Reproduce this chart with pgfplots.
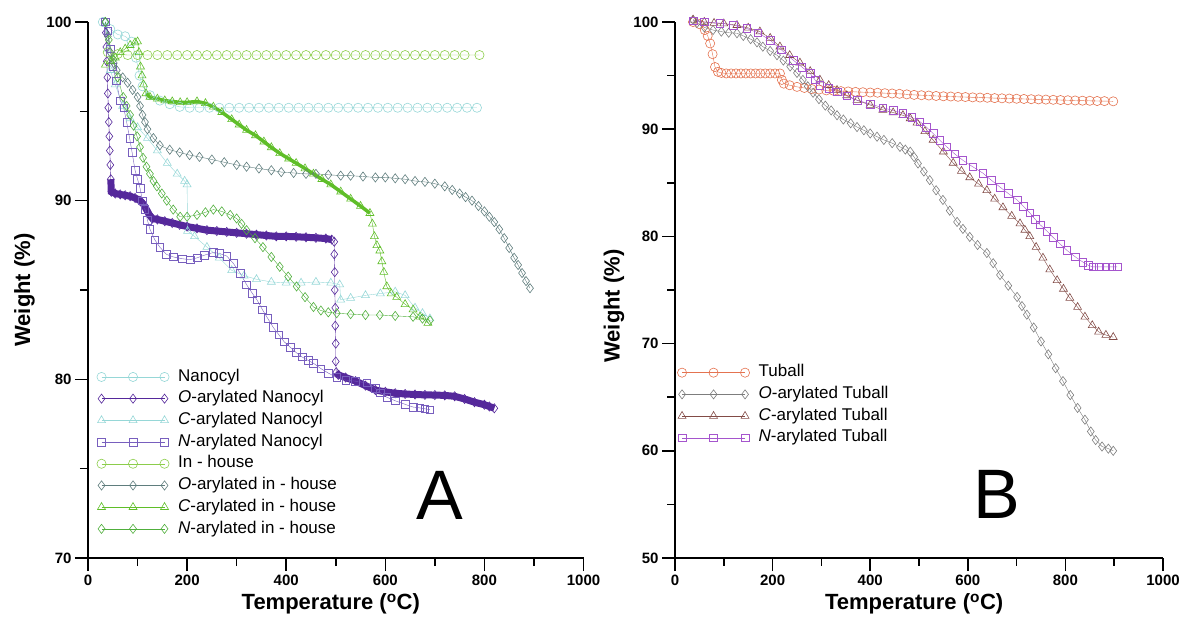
\documentclass[border=0pt]{standalone}
\usepackage{fontspec}
\setmainfont{Liberation Sans}
\usepackage{pgfplots}
\usepackage{pgfplotstable}
\pgfplotsset{compat=1.18}

\definecolor{cNano}{RGB}{150,215,215}
\definecolor{cONano}{RGB}{85,40,155}
\definecolor{cNNano}{RGB}{120,95,190}
\definecolor{cIn}{RGB}{140,205,75}
\definecolor{cOIn}{RGB}{95,125,125}
\definecolor{cCIn}{RGB}{95,190,40}
\definecolor{cNIn}{RGB}{80,175,60}
\definecolor{cTu}{RGB}{228,115,80}
\definecolor{cOTu}{RGB}{125,125,125}
\definecolor{cCTu}{RGB}{130,75,70}
\definecolor{cNTu}{RGB}{165,85,205}

% ---------- Panel A data ----------
\pgfplotstableread{
x y
30 100
45 99.6
60 99.3
75 99.2
88 98.9
97 98.0
104 97.0
110 96.4
125 95.9
145 95.6
165 95.4
185 95.25
205 95.2
225 95.2
245 95.2
265 95.2
285 95.2
305 95.2
325 95.2
345 95.2
365 95.2
385 95.2
405 95.2
425 95.2
445 95.2
465 95.2
485 95.2
505 95.2
525 95.2
545 95.2
565 95.2
585 95.2
605 95.2
625 95.2
645 95.2
665 95.2
685 95.2
705 95.2
725 95.2
745 95.2
765 95.2
785 95.2
}\tNano

\pgfplotstableread{
x y
35 100
36 99.4
37 98.6
38 97.8
39 96.9
40 96.0
41 95.2
42 94.4
43 93.6
44 92.8
45 92.0
46 91.2
47 90.5
55 90.4
65 90.35
75 90.3
85 90.25
95 90.15
105 90.0
112 89.8
118 89.5
124 89.2
130 89.0
140 88.95
155 88.85
170 88.75
185 88.65
200 88.55
220 88.45
240 88.35
260 88.3
280 88.25
300 88.2
320 88.15
340 88.1
360 88.05
380 88.0
400 88.0
420 87.98
440 87.95
460 87.92
480 87.88
492 87.82
497 87.7
497 87.0
498 86.0
498 85.0
499 84.0
499 83.0
500 82.0
500 81.0
501 80.4
505 80.25
520 80.1
540 79.9
560 79.65
580 79.4
600 79.3
620 79.22
640 79.18
660 79.15
680 79.13
700 79.12
720 79.1
740 79.05
760 78.9
780 78.72
800 78.58
810 78.48
820 78.38
}\tONano

\pgfplotstableread{
x y
35 100
40 98.5
45 97.3
55 96.5
70 95.3
85 94.6
100 94.1
120 93.5
140 92.8
160 92.1
180 91.5
195 91.1
200 90.9
201 88.3
215 88.0
240 87.4
265 86.8
290 86.1
315 85.8
340 85.6
370 85.45
400 85.4
430 85.4
460 85.45
490 85.4
508 85.3
510 84.45
530 84.55
560 84.7
590 84.8
620 84.9
640 84.7
660 84.0
675 83.7
690 83.4
}\tCNano

\pgfplotstableread{
x y
35 100
40 99.5
45 98.5
50 97.5
57 96.7
65 95.6
72 95.2
78 94.4
84 93.5
89 92.7
95 91.7
100 91.2
105 90.7
110 90.0
115 89.5
120 88.9
125 88.4
135 87.8
145 87.4
158 87.0
172 86.85
190 86.75
206 86.7
220 86.8
235 86.95
253 87.1
265 87.05
280 86.9
293 86.5
307 85.95
320 85.3
332 84.8
341 84.45
352 83.9
363 83.4
374 82.9
385 82.5
396 82.1
408 81.8
420 81.5
432 81.25
445 81.05
455 80.9
470 80.6
485 80.35
502 80.1
520 79.95
540 79.9
563 79.8
580 79.5
590 79.25
603 79.0
620 78.8
640 78.6
656 78.45
670 78.4
680 78.35
690 78.3
}\tNNano

\pgfplotstableread{
x y
40 98.3
60 98.2
80 98.15
100 98.15
120 98.15
140 98.15
160 98.15
180 98.15
200 98.15
220 98.15
240 98.15
260 98.15
280 98.15
300 98.15
320 98.15
340 98.15
360 98.15
380 98.15
400 98.15
420 98.15
440 98.15
460 98.15
480 98.15
500 98.15
520 98.15
540 98.15
560 98.15
580 98.15
600 98.15
620 98.15
640 98.15
660 98.15
680 98.15
700 98.15
720 98.15
740 98.15
760 98.15
790 98.15
}\tIn

\pgfplotstableread{
x y
35 100
40 99.2
45 98.3
52 97.7
58 97.3
70 96.9
80 96.6
90 96.2
100 95.8
105 95.3
110 94.8
115 94.4
120 94.0
132 93.5
145 93.1
165 92.85
185 92.7
205 92.55
225 92.45
250 92.3
275 92.15
300 92.0
320 91.9
345 91.8
370 91.7
390 91.6
415 91.55
440 91.5
460 91.5
485 91.45
510 91.4
530 91.4
555 91.35
580 91.3
600 91.3
620 91.25
640 91.2
660 91.1
680 91.05
700 90.95
720 90.8
735 90.6
750 90.4
762 90.2
775 90.0
788 89.7
800 89.4
810 89.1
820 88.8
830 88.4
840 87.9
850 87.35
860 86.8
868 86.4
876 85.95
884 85.5
892 85.1
}\tOIn

\pgfplotstableread{
x y
35 97.6
45 97.8
55 98.0
65 98.3
75 98.5
85 98.7
95 98.85
100 98.9
103 98.3
106 97.5
109 97.0
112 96.5
117 96.0
125 95.8
140 95.7
155 95.6
170 95.55
186 95.5
200 95.5
220 95.55
237 95.45
253 95.25
270 94.95
290 94.55
305 94.25
320 93.95
338 93.65
355 93.3
370 92.98
387 92.65
405 92.35
420 92.1
438 91.8
455 91.5
472 91.2
490 90.9
510 90.5
530 90.1
550 89.7
569 89.3
574 88.7
578 88.0
583 87.5
589 87.2
593 86.6
597 86.0
603 85.2
612 84.8
623 84.6
640 84.2
656 83.9
670 83.5
686 83.15
}\tCIn

\pgfplotstableread{
x y
35 100
42 99.0
51 97.9
60 96.9
71 95.8
78 95.3
85 94.8
92 94.2
99 93.6
105 93.0
111 92.4
118 91.9
125 91.5
132 91.1
139 90.8
149 90.4
159 90.0
172 89.5
186 89.1
200 89.1
220 89.2
237 89.35
253 89.5
270 89.4
287 89.2
300 89.0
310 88.7
320 88.35
337 87.9
353 87.4
370 86.85
387 86.3
404 85.75
421 85.2
438 84.6
455 84.05
470 83.85
485 83.75
502 83.7
530 83.65
560 83.6
589 83.6
620 83.55
656 83.5
675 83.4
690 83.3
}\tNIn

% ---------- Panel B data ----------
\pgfplotstableread{
x y
37 100
50 99.8
61 99.25
67 98.7
72 98.0
77 97.0
82 95.8
88 95.35
95 95.25
105 95.2
115 95.2
125 95.2
135 95.2
145 95.2
155 95.2
165 95.2
175 95.2
185 95.2
195 95.2
205 95.2
215 95.2
219 94.6
223 94.25
235 94.1
250 93.95
265 93.85
280 93.75
295 93.7
310 93.62
325 93.58
340 93.55
355 93.52
370 93.48
385 93.45
400 93.42
415 93.4
430 93.36
445 93.33
460 93.3
475 93.25
490 93.2
505 93.17
520 93.14
535 93.1
550 93.07
565 93.05
580 93.02
595 93.0
610 92.97
625 92.95
640 92.93
655 92.9
670 92.88
685 92.86
700 92.84
715 92.82
730 92.8
745 92.78
760 92.76
775 92.74
790 92.72
805 92.7
820 92.68
835 92.66
850 92.65
865 92.63
880 92.62
898 92.6
}\tTu

\pgfplotstableread{
x y
37 100.2
45 99.9
60 99.5
78 99.25
95 99.1
110 99.0
127 98.95
140 98.7
155 98.4
168 98.1
180 97.7
195 97.3
209 96.9
222 96.4
236 95.85
250 95.25
262 94.6
272 94.0
283 93.4
295 92.8
308 92.2
320 91.75
332 91.3
345 90.9
360 90.55
373 90.2
387 89.9
400 89.6
414 89.3
428 89.0
445 88.7
461 88.35
472 88.1
482 87.9
490 87.4
498 86.8
510 86.05
522 85.25
535 84.3
549 83.4
563 82.4
578 81.35
590 80.7
604 79.95
620 79.2
639 78.45
652 77.5
666 76.4
683 75.4
701 74.35
711 73.5
721 72.7
735 71.5
750 70.2
765 69.0
780 67.7
795 66.5
810 65.2
825 64.0
840 62.9
852 61.8
862 61.0
875 60.4
888 60.2
898 60.0
}\tOTu

\pgfplotstableread{
x y
37 100.2
60 100.0
80 99.9
100 99.85
127 99.7
150 99.45
174 99.1
195 98.5
215 97.7
235 96.9
256 96.2
277 95.4
297 94.6
315 94.1
332 93.65
352 93.15
373 92.7
400 92.25
426 91.8
447 91.55
467 91.3
482 91.0
496 90.6
512 89.8
529 89.0
550 87.9
570 86.85
587 86.1
604 85.5
622 84.9
639 84.3
655 83.5
672 82.7
690 81.9
707 81.2
717 80.6
727 80.0
740 79.0
754 78.0
768 76.9
783 75.9
796 75.1
809 74.25
825 73.4
840 72.5
855 71.7
868 71.1
883 70.8
898 70.6
}\tCTu

\pgfplotstableread{
x y
37 100.1
60 100.0
92 99.9
120 99.7
147 99.4
170 99.0
195 98.3
218 97.4
242 96.45
260 95.8
277 95.2
287 94.6
297 94.1
315 93.8
332 93.5
352 93.1
373 92.7
400 92.35
426 92.0
447 91.75
467 91.5
485 91.1
502 90.7
515 90.2
529 89.6
543 88.95
557 88.35
573 87.7
590 87.1
610 86.5
631 85.9
648 85.25
666 84.6
683 84.0
701 83.4
714 82.8
727 82.2
738 81.6
748 81.1
762 80.5
775 79.9
789 79.3
803 78.7
820 78.1
836 77.6
847 77.3
857 77.15
870 77.15
883 77.15
895 77.15
906 77.15
}\tNTu

\pgfplotsset{
  tgastyle/.style={
    scale only axis,
    xmin=0, xmax=1000,
    axis x line*=bottom, axis y line*=left,
    axis line style={line width=1.6pt, black},
    tick align=outside,
    major tick length=13pt, minor tick length=8pt,
    major tick style={line width=1.5pt, black},
    minor tick style={line width=1.5pt, black},
    minor x tick num=1, minor y tick num=1,
    xtick={0,200,400,600,800,1000},
    /pgf/number format/assume math mode=true,
    /pgf/number format/1000 sep={},
    xticklabel style={font=\bfseries\fontsize{15}{17}\selectfont},
    yticklabel style={font=\bfseries\fontsize{15}{17}\selectfont},
    xlabel={Temperature (\textsuperscript{o}C)},
    ylabel={Weight (\%)},
    every axis x label/.style={at={(axis description cs:0.49,0)}, anchor=center, yshift=-46pt, font=\bfseries\fontsize{22}{26}\selectfont},
    clip=false,
    legend cell align=left,
    legend image code/.code={
      \draw[mark repeat=1,mark phase=1,##1] plot coordinates {(0pt,0pt) (31.5pt,0pt) (63pt,0pt)};
    },
    legend style={draw=none, fill=none, inner sep=0pt, outer sep=0pt,
      font=\fontsize{17}{19}\selectfont, row sep=0pt,
      nodes={inner xsep=1pt, inner ysep=2pt, text height=13pt, text depth=4.7pt},
      /tikz/every odd column/.append style={column sep=8pt}},
  },
  ser/.style 2 args={color=#1, mark=#2, line width=0.4pt, mark size=4.6pt, mark options={solid, line width=0.6pt}},
}

\begin{document}
\begin{tikzpicture}
\useasboundingbox (0,0) rectangle (1186pt,623pt);

% ================= Panel A =================
\begin{axis}[tgastyle,
  at={(88pt,65pt)}, anchor=south west,
  width=495.5pt, height=536pt,
  ymin=70, ymax=100, ytick={70,80,90,100},
  every axis y label/.style={at={(axis description cs:-0.128,0.5)}, rotate=90, anchor=center, font=\bfseries\fontsize{22}{26}\selectfont},
  legend style={at={(rel axis cs:0.018,0.358)}, anchor=north west},
]
\addplot[forget plot, color=cONano, line width=7pt, restrict x to domain=46:496.5] table {\tONano};
\addplot[forget plot, color=cONano, line width=7pt, restrict x to domain=501:830] table {\tONano};
\addplot[forget plot, color=cCIn, line width=3.5pt, restrict x to domain=116:570] table {\tCIn};

\addplot[ser={cNano}{o}] table {\tNano};
\addlegendentry{Nanocyl}
\addplot[ser={cONano}{diamond}] table {\tONano};
\addlegendentry{\textit{O}-arylated Nanocyl}
\addplot[ser={cNano}{triangle}] table {\tCNano};
\addlegendentry{\textit{C}-arylated Nanocyl}
\addplot[ser={cNNano}{square}, mark size=3.8pt] table {\tNNano};
\addlegendentry{\textit{N}-arylated Nanocyl}
\addplot[ser={cIn}{o}] table {\tIn};
\addlegendentry{In - house}
\addplot[ser={cOIn}{diamond}] table {\tOIn};
\addlegendentry{\textit{O}-arylated in - house}
\addplot[ser={cCIn}{triangle}] table {\tCIn};
\addlegendentry{\textit{C}-arylated in - house}
\addplot[ser={cNIn}{diamond}] table {\tNIn};
\addlegendentry{\textit{N}-arylated in - house}

\node[font=\fontsize{70}{70}\selectfont] at (axis cs:710,73.5) {A};
\end{axis}

% ================= Panel B =================
\begin{axis}[tgastyle,
  at={(675pt,65pt)}, anchor=south west,
  width=488pt, height=536pt,
  ymin=50, ymax=100, ytick={50,60,70,80,90,100},
  every axis y label/.style={at={(axis description cs:-0.125,0.47)}, rotate=90, anchor=center, font=\bfseries\fontsize{22}{26}\selectfont},
  legend style={at={(rel axis cs:0.005,0.366)}, anchor=north west},
]
\addplot[ser={cTu}{o}] table {\tTu};
\addlegendentry{Tuball}
\addplot[ser={cOTu}{diamond}] table {\tOTu};
\addlegendentry{\textit{O}-arylated Tuball}
\addplot[ser={cCTu}{triangle}] table {\tCTu};
\addlegendentry{\textit{C}-arylated Tuball}
\addplot[ser={cNTu}{square}, mark size=3.8pt] table {\tNTu};
\addlegendentry{\textit{N}-arylated Tuball}

\node[font=\fontsize{70}{70}\selectfont] at (axis cs:660,55.9) {B};
\end{axis}
\end{tikzpicture}
\end{document}
